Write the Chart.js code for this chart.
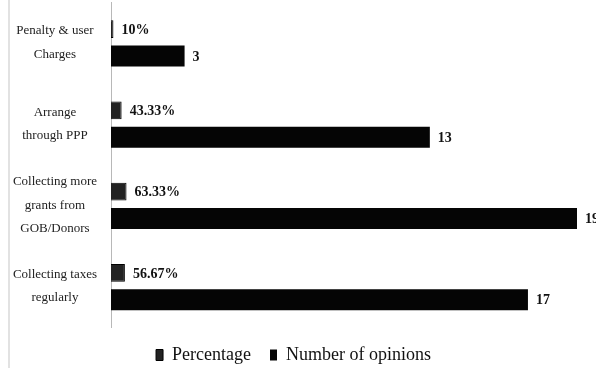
<!DOCTYPE html>
<html lang="en">
<head>
<meta charset="UTF-8" />
<title>Funding options</title>
<script src="https://cdn.jsdelivr.net/npm/chart.js"></script>
<style>
  html, body { margin: 0; padding: 0; background: #fff; }
  .frame {
    position: relative;
    width: 596px;
    height: 368px;
    box-sizing: border-box;
  }
  .frame::before {
    content: '';
    position: absolute;
    left: 8px; top: 0; bottom: 0;
    width: 2px;
    background: #e2e2e2;
  }
</style>
</head>
<body>
  <div class="frame">
    <canvas id="chart" width="596" height="368"></canvas>
  </div>

  <script>
    // categories, top to bottom
    const categories = [
      ['Penalty & user', 'Charges'],
      ['Arrange', 'through PPP'],
      ['Collecting more', 'grants from', 'GOB/Donors'],
      ['Collecting taxes', 'regularly']
    ];
    // percentage of respondents (%)
    const percentage = [10, 43.33, 63.33, 56.67];
    // number of opinions
    const opinions = [3, 13, 19, 17];

    const serif = "'Liberation Serif', 'Times New Roman', serif";

    // value labels drawn next to each bar end
    const barLabels = {
      id: 'barLabels',
      afterDatasetsDraw(chart) {
        const ctx = chart.ctx;
        ctx.save();
        ctx.fillStyle = '#111';
        ctx.font = 'bold 14px ' + serif;
        ctx.textBaseline = 'middle';
        ctx.textAlign = 'left';
        chart.data.datasets.forEach((ds, i) => {
          chart.getDatasetMeta(i).data.forEach((bar, j) => {
            const txt = i === 0 ? percentage[j] + '%' : String(opinions[j]);
            ctx.fillText(txt, bar.x + 8, bar.y + 1);
          });
        });
        ctx.restore();
      }
    };

    new Chart(document.getElementById('chart'), {
      type: 'bar',
      data: {
        labels: categories,
        datasets: [
          {
            label: 'Percentage',
            data: percentage.map(v => v / 100),
            backgroundColor: '#222',
            borderColor: '#000',
            borderWidth: 1,
            barPercentage: 0.66,
            categoryPercentage: 0.66
          },
          {
            label: 'Number of opinions',
            data: opinions,
            backgroundColor: '#050505',
            borderColor: '#050505',
            borderWidth: 0,
            barPercentage: 0.78,
            categoryPercentage: 0.66
          }
        ]
      },
      options: {
        indexAxis: 'y',
        responsive: false,
        animation: false,
        layout: { padding: { left: 10, right: 19, top: 2, bottom: -6 } },
        plugins: {
          legend: {
            position: 'bottom',
            labels: {
              color: '#111',
              font: { family: serif, size: 18 },
              boxWidth: 7,
              boxHeight: 11,
              padding: 19
            }
          },
          tooltip: { enabled: false }
        },
        scales: {
          x: {
            display: false,
            min: 0,
            max: 19
          },
          y: {
            grid: { display: false },
            border: { display: true, color: '#b8b8b8', width: 1 },
            ticks: {
              color: '#222',
              crossAlign: 'center',
              padding: 6,
              font: { family: serif, size: 13, lineHeight: 1.8 }
            },
            afterFit(scale) {
              scale.width = 101;
              scale.paddingTop = 0;
              scale.paddingBottom = 0;
            }
          }
        }
      },
      plugins: [barLabels]
    });
  </script>
</body>
</html>
